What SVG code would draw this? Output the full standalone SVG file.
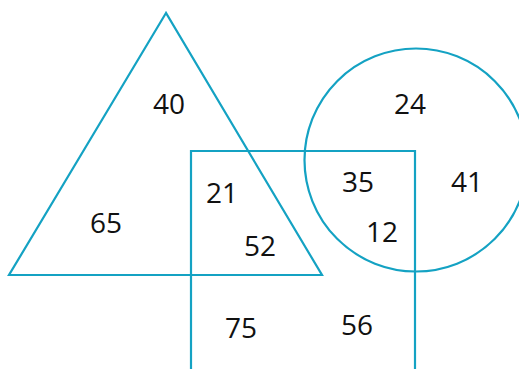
<svg xmlns="http://www.w3.org/2000/svg" width="519" height="369" viewBox="0 0 519 369">
<style>
.s{fill:none;stroke:#14a2c3;stroke-width:2.2}
.t{font-family:"Open Sans","Liberation Sans",sans-serif;font-size:28px;fill:#111;text-anchor:middle}
</style>
<rect width="519" height="369" fill="#fff"/>
<g id="triangle"><polygon class="s" points="166,13 9,275 322,275"/></g>
<g id="rectangle"><polyline class="s" points="191,369 191,151 415,151 415,369"/></g>
<g id="circle"><circle class="s" cx="416" cy="160" r="111.5"/></g>
<g id="labels">
<text class="t" x="169" y="114">40</text>
<text class="t" x="106" y="233">65</text>
<text class="t" x="222" y="203">21</text>
<text class="t" x="260" y="256">52</text>
<text class="t" x="241" y="338">75</text>
<text class="t" x="357" y="335">56</text>
<text class="t" x="358" y="192">35</text>
<text class="t" x="382" y="242">12</text>
<text class="t" x="410" y="114">24</text>
<text class="t" x="467" y="192">41</text>
</g>
</svg>
